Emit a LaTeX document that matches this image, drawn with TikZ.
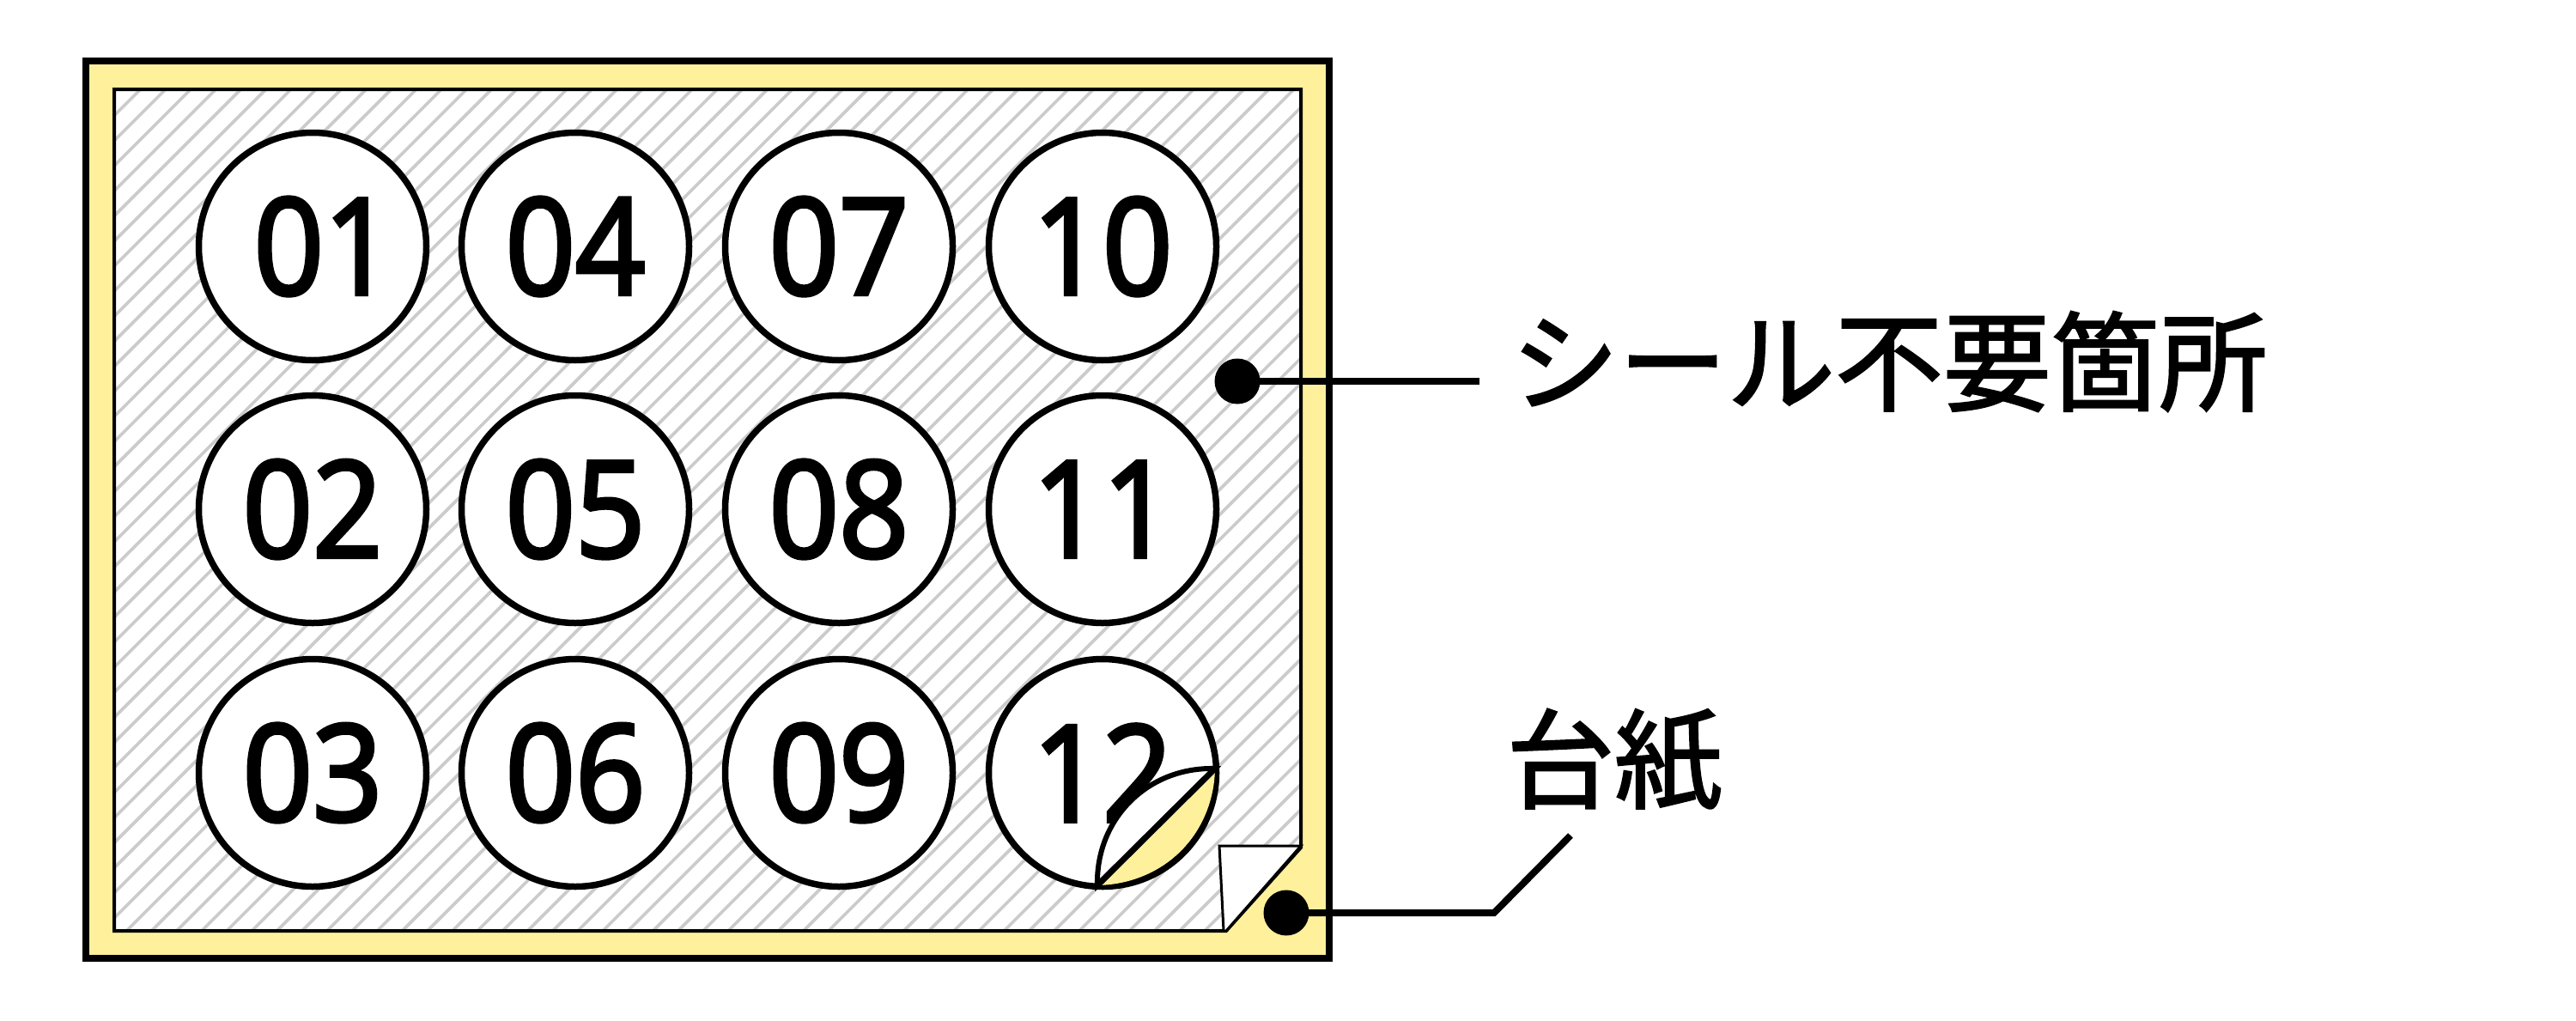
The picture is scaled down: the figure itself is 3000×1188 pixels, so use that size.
\documentclass[tikz,border=0pt]{standalone}
\usepackage{fontspec}
\setmainfont{Open Sans}[FakeBold=2.8, FakeStretch=0.91]
\newfontfamily\cjk{Noto Sans CJK JP}[FakeBold=1.8]
\usepackage{tikz,pgffor}
\usetikzlibrary{calc}
\definecolor{backing}{HTML}{FFF09B}
\definecolor{hatch}{HTML}{CBCBCB}
\tikzstyle{seal} = [
    circle,
    draw=black,
    fill=white,
    line width=0.75mm,
    minimum size=26.5mm,
    inner sep=0pt,
    text centered,
    font=\fontsize{44.5}{50}\selectfont
]
\tikzstyle{dot}   = [circle, fill=black, minimum size=5.3mm, inner sep=0pt]
\tikzstyle{lead}  = [draw, line width=0.8mm]
\tikzstyle{note}  = [inner sep=0pt, font=\cjk\fontsize{35.8}{40}\selectfont]

\begin{document}
\begin{tikzpicture}[x=0.1mm, y=-0.1mm]

\useasboundingbox (0,0) rectangle (3000,1188);

\draw[line width=0.85mm, fill=backing] (100,71) rectangle (1548,1116);

\fill[white] (133,104) -- (1515,104) -- (1515,987) -- (1428,1084) -- (133,1084) -- cycle;
\begin{scope}
\clip (133,104) -- (1515,104) -- (1515,987) -- (1428,1084) -- (133,1084) -- cycle;
\foreach \k in {-1,...,81}
    \draw[hatch, line width=0.36mm] ({267.7+29.2*\k-104},104) -- ({267.7+29.2*\k-1084},1084);
\end{scope}
\draw[line width=0.4mm] (133,104) -- (1515,104) -- (1515,987) -- (1428,1084) -- (133,1084) -- cycle;

% turned up corner
\draw[line width=0.3mm, fill=white, line join=miter] (1420,985) -- (1515,985) -- (1428,1084) -- (1425,1084) -- cycle;

\node[seal] (s01) at (364,287) {\kern2.6mm 01};
\node[seal] (s02) at (364,593) {02};
\node[seal] (s03) at (364,900) {03};
\node[seal] (s04) at (670,287) {04};
\node[seal] (s05) at (670,593) {05};
\node[seal] (s06) at (670,900) {06};
\node[seal] (s07) at (977,287) {07};
\node[seal] (s08) at (977,593) {08};
\node[seal] (s09) at (977,900) {09};
\node[seal] (s10) at (1284,287) {10};
\node[seal] (s11) at (1284,593) {11};
\node[seal] (s12) at (1284,900) {12};

% peeled part of the last seal
\coordinate (peelA) at (1278,1031);
\coordinate (peelB) at (1415,895);
\fill[backing] (peelA) .. controls (1355.5,1029.5) and (1413.5,971.5) .. (peelB) -- cycle;
\draw[line width=0.6mm, fill=white] (peelA) .. controls (1276,955) and (1335,893) .. (peelB) -- cycle;
\draw[line width=0.7mm] (peelA) -- (peelB);

\node[dot] (dot1) at (1441,444)  {};
\node[dot] (dot2) at (1498,1063) {};

\coordinate (end1)  at (1723,444);
\coordinate (bend2) at (1740,1063);
\coordinate (end2)  at (1829,973);

\draw[lead] (dot1.center) -- (end1);
\draw[lead] (dot2.center) -- (bend2) -- (end2);

\node[note] (unneeded) at (2200,421) {シール不要箇所};
\node[note] (backingtxt) at (1880,885) {台紙};

\end{tikzpicture}
\end{document}
